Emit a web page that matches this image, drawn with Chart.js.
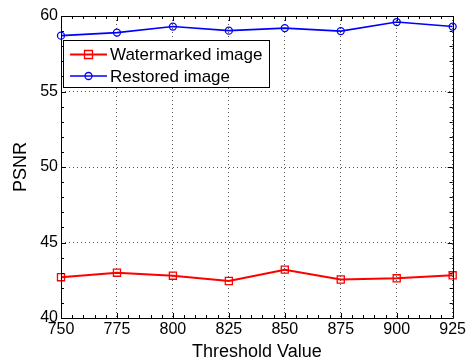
<!DOCTYPE html>
<html>
<head>
<meta charset="utf-8">
<script src="https://cdn.jsdelivr.net/npm/chart.js@4/dist/chart.umd.min.js"></script>
<style>
html,body{margin:0;padding:0;background:#fff;}
#wrap{width:468px;height:363px;position:relative;}
</style>
</head>
<body>
<div id="wrap"><canvas id="c" width="468" height="363"></canvas></div>
<script>
const thresholds = [750, 775, 800, 825, 850, 875, 900, 925];
const watermarked = [42.7, 43.0, 42.8, 42.45, 43.2, 42.55, 42.63, 42.83];
const restored = [58.7, 58.9, 59.3, 59.03, 59.2, 59.0, 59.6, 59.3];
const seriesNames = ['Watermarked image', 'Restored image'];
const yTicks = [40, 45, 50, 55, 60];
const xTicks = thresholds;

const FONT = '"Liberation Sans", Arial, sans-serif';

const framePlugin = {
  id: 'frame',
  afterDatasetsDraw(chart) {
    const {ctx, chartArea: a, scales: {x, y}} = chart;
    ctx.save();
    ctx.strokeStyle = '#000';
    ctx.lineWidth = 1;
    ctx.beginPath();
    ctx.rect(Math.round(a.left) + 0.5, Math.round(a.top) + 0.5, Math.round(a.right - a.left), Math.round(a.bottom - a.top));
    ctx.stroke();
    ctx.beginPath();
    for (let v = x.min; v <= x.max + 0.001; v += 5) {
      const px = Math.round(x.getPixelForValue(v)) + 0.5;
      const len = (Math.abs((v - x.min) % 25) < 0.001) ? 5 : 3;
      ctx.moveTo(px, a.bottom); ctx.lineTo(px, a.bottom - len);
      ctx.moveTo(px, a.top); ctx.lineTo(px, a.top + len);
    }
    for (let v = y.min; v <= y.max + 0.001; v += 1) {
      const py = Math.round(y.getPixelForValue(v)) + 0.5;
      const len = (Math.abs(v % 5) < 0.001) ? 5 : 3;
      ctx.moveTo(a.left, py); ctx.lineTo(a.left + len, py);
      ctx.moveTo(a.right, py); ctx.lineTo(a.right - len, py);
    }
    ctx.stroke();
    ctx.restore();
  },
  afterDraw(chart) {
    const {ctx} = chart;
    const bx = 63.5, by = 40.5, bw = 206, bh = 47;
    ctx.save();
    ctx.fillStyle = '#fff';
    ctx.fillRect(bx, by, bw, bh);
    ctx.strokeStyle = '#000';
    ctx.lineWidth = 1;
    ctx.strokeRect(bx, by, bw, bh);
    const rows = [54.5, 76];
    chart.data.datasets.forEach((ds, i) => {
      const yy = rows[i];
      ctx.strokeStyle = ds.borderColor;
      ctx.lineWidth = ds.borderWidth;
      ctx.beginPath();
      ctx.moveTo(70, yy); ctx.lineTo(107, yy);
      ctx.stroke();
      ctx.lineWidth = 1.3;
      ctx.beginPath();
      if (ds.pointStyle === 'rect') {
        ctx.rect(84.5, yy - 4, 8, 8);
      } else {
        ctx.arc(88.5, yy, 3.5, 0, Math.PI * 2);
      }
      ctx.stroke();
      ctx.fillStyle = '#000';
      ctx.font = '17px ' + FONT;
      ctx.textBaseline = 'middle';
      ctx.textAlign = 'left';
      ctx.fillText(ds.label, 110, yy + 1);
    });
    ctx.restore();
  }
};

new Chart(document.getElementById('c'), {
  type: 'line',
  data: {
    datasets: [
      {
        label: seriesNames[0],
        data: thresholds.map((t, i) => ({x: t, y: watermarked[i]})),
        borderColor: '#ff0000',
        backgroundColor: 'rgba(0,0,0,0)',
        borderWidth: 2,
        pointStyle: 'rect',
        pointRadius: 5,
        pointBorderWidth: 1.3,
        pointBackgroundColor: 'rgba(0,0,0,0)',
        pointBorderColor: '#ff0000',
        tension: 0
      },
      {
        label: seriesNames[1],
        data: thresholds.map((t, i) => ({x: t, y: restored[i]})),
        borderColor: '#0000ff',
        backgroundColor: 'rgba(0,0,0,0)',
        borderWidth: 1.6,
        pointStyle: 'circle',
        pointRadius: 3.5,
        pointBorderWidth: 1.3,
        pointBackgroundColor: 'rgba(0,0,0,0)',
        pointBorderColor: '#0000ff',
        tension: 0
      }
    ]
  },
  options: {
    responsive: false,
    animation: false,
    clip: false,
    layout: {padding: {top: 16, right: 15, left: 0, bottom: 0}},
    plugins: {legend: {display: false}, tooltip: {enabled: false}},
    scales: {
      x: {
        type: 'linear',
        min: 750, max: 925,
        afterBuildTicks(s) { s.ticks = xTicks.map(v => ({value: v})); },
        afterFit(s) { s.height = 45; },
        ticks: {color: '#000', font: {family: FONT, size: 16}, padding: 2, maxRotation: 0, autoSkip: false},
        grid: {color: '#555', lineWidth: 1, drawTicks: false},
        border: {display: false, dash: [1, 3]},
        title: {display: true, text: 'Threshold Value', color: '#000', font: {family: FONT, size: 18}, padding: {top: 0, bottom: 0}}
      },
      y: {
        min: 40, max: 60,
        afterBuildTicks(s) { s.ticks = yTicks.map(v => ({value: v})); },
        afterFit(s) { s.width = 61; },
        ticks: {color: '#000', font: {family: FONT, size: 16}, padding: 3},
        grid: {color: '#555', lineWidth: 1, drawTicks: false},
        border: {display: false, dash: [1, 3]},
        title: {display: true, text: 'PSNR', color: '#000', font: {family: FONT, size: 18}, padding: {top: 10, bottom: 0}}
      }
    }
  },
  plugins: [framePlugin]
});
</script>
</body>
</html>
